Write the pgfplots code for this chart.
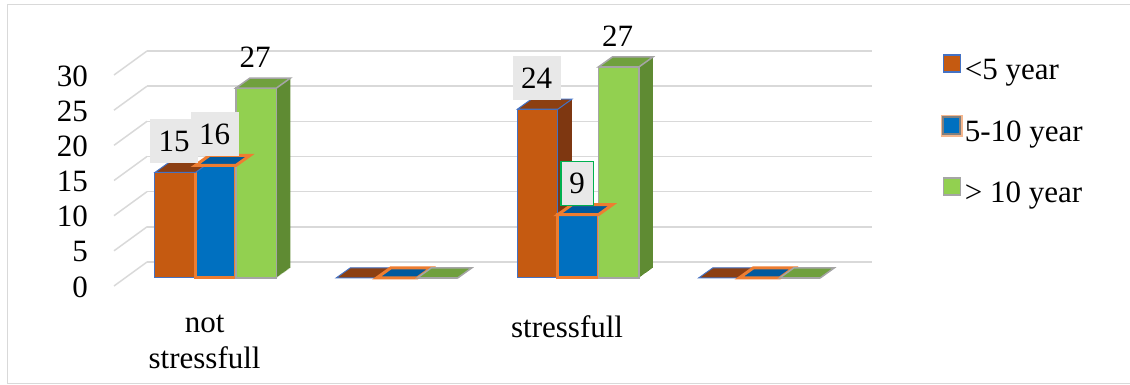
\documentclass[border=0pt]{standalone}
\usepackage{pgfplots}
\pgfplotsset{compat=1.18}
\usepackage{pgfplotstable}
\usepackage{fontspec}
\setmainfont{Liberation Serif}
\newcommand\cf{\fontsize{31}{36}\selectfont}
\definecolor{orFill}{HTML}{C55A11}
\definecolor{orTop}{HTML}{8C3F12}
\definecolor{orSide}{HTML}{7E3711}
\definecolor{orLine}{HTML}{4472C4}
\definecolor{blFill}{HTML}{0070C0}
\definecolor{blTop}{HTML}{005A9E}
\definecolor{blSide}{HTML}{00558F}
\definecolor{blLine}{HTML}{ED7D31}
\definecolor{grFill}{HTML}{92D050}
\definecolor{grTop}{HTML}{70A03E}
\definecolor{grSide}{HTML}{5F8B33}
\definecolor{grLine}{HTML}{A5A5A5}
\definecolor{lblgray}{HTML}{E8E8E8}
\definecolor{lblgreen}{HTML}{00B050}
\definecolor{gridcol}{HTML}{D9D9D9}
\definecolor{framecol}{HTML}{D9D9D9}

\pgfdeclareplotmark{topface}{%
  \pgfpathmoveto{\pgfqpoint{-20.25pt}{0pt}}%
  \pgfpathlineto{\pgfqpoint{20.25pt}{0pt}}%
  \pgfpathlineto{\pgfqpoint{34.25pt}{10pt}}%
  \pgfpathlineto{\pgfqpoint{-6.25pt}{10pt}}%
  \pgfpathclose\pgfusepathqfillstroke}

% fo = label box fill opacity, do = label box border opacity
\pgfplotstableread{
x y lab fo do
0 15 15 1 0
1 0 {} 0 0
2 24 24 1 0
3 0 {} 0 0
}\tabA
\pgfplotstableread{
x y lab fo do
0 16 16 1 0
1 0 {} 0 0
2 9 9 1 1
3 0 {} 0 0
}\tabB
\pgfplotstableread{
x y lab fo do
0 27 27 0 0
1 0 {} 0 0
2 30 27 0 0
3 0 {} 0 0
}\tabC

\pgfplotsset{
  lbl/.style={draw=none, mark=none, forget plot, point meta=explicit symbolic,
    nodes near coords,
    visualization depends on={\thisrow{fo} \as \lfo},
    visualization depends on={\thisrow{do} \as \ldo},
    every node near coord/.append style={anchor=south, yshift=8.5pt, xshift=-1pt,
      inner xsep=8.5pt, inner ysep=0pt, minimum height=44pt, font=\cf,
      text=black, text opacity=1, fill=lblgray, draw=lblgreen, fill opacity=\lfo, draw opacity=\ldo,
      line width=1.5pt}},
}

\begin{document}
\begin{tikzpicture}[x=1pt,y=1pt]
\useasboundingbox (0,0) rectangle (1130,385);
\draw[framecol, line width=1pt] (7.5,1.5) rectangle (1140,380);
\begin{axis}[
  at={(125pt,107pt)}, anchor=south west,
  scale only axis, width=725pt, height=211pt,
  xmin=-0.5, xmax=3.5, ymin=0, ymax=30,
  clip=false,
  axis line style={draw=none}, tick style={draw=none}, major tick length=0pt,
  ytick={0,5,...,30}, xtick={0,1,2,3},
  xticklabels={{not\\stressfull},{},stressfull,{}},
  ymajorgrids, grid style={draw=gridcol, line width=1.5pt, xshift=22pt, yshift=16pt},
  yticklabel style={font=\cf, anchor=east, inner sep=0pt, xshift=-37pt, yshift=-9pt},
  xticklabel style={font=\cf, anchor=north, inner sep=0pt, align=center, xshift=-11pt, yshift=-37pt},
  /pgf/number format/assume math mode=true,
  legend style={at={(axis description cs:1.125,1.062)}, anchor=north west, draw=none, fill=none,
    font=\cf, row sep=32pt, inner sep=0pt, nodes={inner sep=2pt}},
  legend cell align=left,
]
\pgfplotsinvokeforeach{0,5,10,15,20,25,30}{
  \draw[gridcol, line width=1.5pt] ([xshift=-11pt,yshift=-8pt]axis cs:-0.5,#1) -- ([xshift=22pt,yshift=16pt]axis cs:-0.5,#1);
}
% <5 year
\pgfplotsinvokeforeach{14,13,12,11,10,9,8,7,6,5,4,3,2,1}{
  \addplot[ybar, bar width=40.5pt, bar shift=-40.5pt, fill=orSide, draw=none, forget plot,
    xshift=#1pt, yshift={#1*10pt/14}] table[x=x,y=y]{\tabA};
}
\addplot[ybar, bar width=40.5pt, bar shift=-40.5pt, fill=orFill, draw=orLine, line width=1pt,
  legend image code/.code={\draw[fill=orFill, draw=orLine, line width=1.5pt] (0pt,-2pt) rectangle (17pt,15pt);}]
  table[x=x,y=y]{\tabA};
\addlegendentry{<5 year}
\addplot[only marks, mark=topface, xshift=-40.5pt, mark options={fill=orTop, draw=orLine, line width=1pt}, forget plot]
  table[x=x,y=y]{\tabA};
% 5-10 year
\pgfplotsinvokeforeach{14,13,12,11,10,9,8,7,6,5,4,3,2,1}{
  \addplot[ybar, bar width=40.5pt, bar shift=0pt, fill=blSide, draw=none, forget plot,
    xshift=#1pt, yshift={#1*10pt/14}] table[x=x,y=y]{\tabB};
}
\addplot[ybar, bar width=40.5pt, bar shift=0pt, fill=blFill, draw=blLine, line width=3pt,
  legend image code/.code={\draw[draw=blLine!55, line width=3pt] (-1pt,-3pt) rectangle (18pt,16pt);
     \draw[fill=blFill, draw=gray, line width=2pt] (0pt,-2pt) rectangle (17pt,15pt);}]
  table[x=x,y=y]{\tabB};
\addlegendentry{5-10 year}
\addplot[only marks, mark=topface, xshift=0pt, mark options={fill=blTop, draw=blLine, line width=3pt}, forget plot]
  table[x=x,y=y]{\tabB};
% > 10 year
\pgfplotsinvokeforeach{14,13,12,11,10,9,8,7,6,5,4,3,2,1}{
  \addplot[ybar, bar width=40.5pt, bar shift=40.5pt, fill=grSide, draw=none, forget plot,
    xshift=#1pt, yshift={#1*10pt/14}] table[x=x,y=y]{\tabC};
}
\addplot[ybar, bar width=40.5pt, bar shift=40.5pt, fill=grFill, draw=grLine, line width=1.5pt,
  legend image code/.code={\draw[fill=grFill, draw=grLine, line width=1.5pt] (0pt,-2pt) rectangle (17pt,15pt);}]
  table[x=x,y=y]{\tabC};
\addlegendentry{> 10 year}
\addplot[only marks, mark=topface, xshift=40.5pt, mark options={fill=grTop, draw=grLine, line width=1.5pt}, forget plot]
  table[x=x,y=y]{\tabC};
% labels
\addplot[lbl, xshift=-40.5pt] table[x=x,y=y,meta=lab]{\tabA};
\addplot[lbl, xshift=0pt] table[x=x,y=y,meta=lab]{\tabB};
\addplot[lbl, xshift=40.5pt] table[x=x,y=y,meta=lab]{\tabC};
\end{axis}
\end{tikzpicture}
\end{document}
